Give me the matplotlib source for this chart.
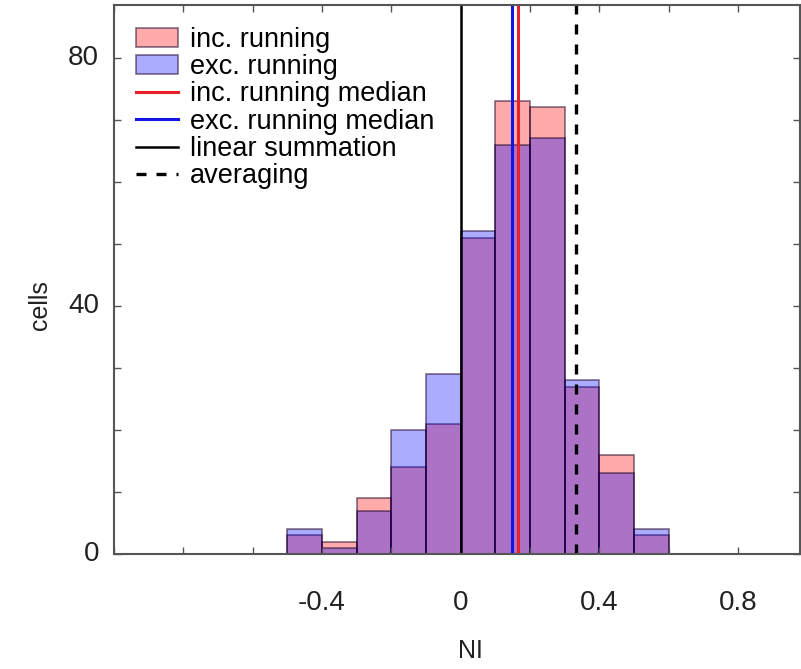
import numpy as np
import matplotlib.pyplot as plt
from matplotlib.ticker import MultipleLocator

plt.rcParams['font.family'] = ['Liberation Sans', 'DejaVu Sans']

# histogram of NI values (bin edges and cell counts)
bin_edges = [-0.5, -0.4, -0.3, -0.2, -0.1, 0.0, 0.1, 0.2, 0.3, 0.4, 0.5, 0.6]
inc_counts = [3, 2, 9, 14, 21, 51, 73, 72, 27, 16, 3]
exc_counts = [4, 1, 7, 20, 29, 52, 66, 67, 28, 13, 4]

# reference lines
inc_median = 0.164
exc_median = 0.149
linear_ni = 0.0
averaging_ni = 1 / 3

x_labels = ['-0.4', '0', '0.4', '0.8']
x_label_pos = [-0.4, 0.0, 0.4, 0.8]
y_labels = ['0', '40', '80']
y_label_pos = [0, 40, 80]


def main():
    fig = plt.figure(figsize=(8.01, 6.69), dpi=100)
    ax = fig.add_axes([0.1423, 0.1719, 0.857, 0.8206])

    left = np.array(bin_edges[:-1])
    width = np.diff(bin_edges)

    b_inc = ax.bar(left, inc_counts, width=width, align='edge',
                   facecolor=(1.0, 0.0, 0.0, 0.33), edgecolor=(0.1, 0.0, 0.15, 0.55),
                   linewidth=1.2, label='inc. running')
    b_exc = ax.bar(left, exc_counts, width=width, align='edge',
                   facecolor=(0.0, 0.0, 1.0, 0.33), edgecolor=(0.1, 0.0, 0.15, 0.55),
                   linewidth=1.2, label='exc. running')

    l_inc = ax.axvline(inc_median, color='#e8202a', linewidth=2.2, label='inc. running median')
    l_exc = ax.axvline(exc_median, color='#1515e0', linewidth=2.2, label='exc. running median')
    l_lin = ax.axvline(linear_ni, color='black', linewidth=1.8, label='linear summation')
    l_avg = ax.axvline(averaging_ni, color='black', linewidth=2.4, linestyle=(0, (3.0, 3.0)),
                       label='averaging')

    ax.set_xlim(-1.0, 0.98)
    ax.set_ylim(0, 88.5)

    # ticks every 0.2 / 10, labels only on a few of them
    ax.xaxis.set_major_locator(MultipleLocator(0.2))
    ax.xaxis.set_major_formatter(plt.NullFormatter())
    ax.yaxis.set_major_locator(MultipleLocator(10))
    ax.yaxis.set_major_formatter(plt.NullFormatter())
    ax.tick_params(which='both', direction='in', top=True, right=True,
                   length=5, width=1, color='#555555')

    for pos, lab in zip(x_label_pos, x_labels):
        ax.text(pos, -0.065, lab, transform=ax.get_xaxis_transform(),
                ha='center', va='top', fontsize=20, color='#222222')
    for pos, lab in zip(y_label_pos, y_labels):
        ax.text(-0.022, pos, lab, transform=ax.get_yaxis_transform(),
                ha='right', va='center', fontsize=20, color='#222222')

    ax.set_xlabel('NI', fontsize=18, color='#222222')
    ax.xaxis.set_label_coords(0.519, -0.155)
    ax.set_ylabel('cells', fontsize=18, color='#222222')
    ax.yaxis.set_label_coords(-0.09, 0.454)

    for sp in ax.spines.values():
        sp.set_color('#555555')
        sp.set_linewidth(1.5)

    handles = [b_inc, b_exc, l_inc, l_exc, l_lin, l_avg]
    ax.legend(handles=handles, loc='upper left', frameon=False, fontsize=19.5,
              handlelength=1.55, handletextpad=0.45, labelspacing=0.05,
              borderaxespad=0.35, borderpad=0.45)

    fig.savefig('out.png', dpi=100)


if __name__ == '__main__':
    main()
